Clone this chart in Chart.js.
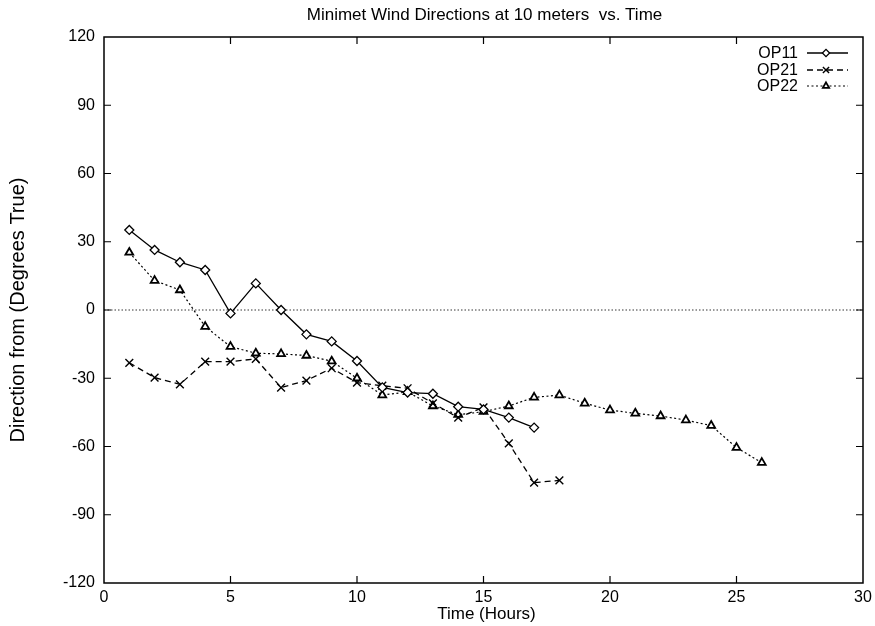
<!DOCTYPE html>
<html>
<head>
<meta charset="utf-8">
<script src="https://cdn.jsdelivr.net/npm/chart.js@4/dist/chart.umd.min.js"></script>
<style>
html,body{margin:0;padding:0;background:#fff;}
#wrap{width:875px;height:626px;position:relative;}
</style>
</head>
<body>
<div id="wrap"><canvas id="c" width="875" height="626"></canvas></div>
<script>
// ---- data ----
const hoursOP11 = [1,2,3,4,5,6,7,8,9,10,11,12,13,14,15,16,17];
const dirOP11   = [35.2,26.4,21,17.6,-1.5,11.7,0,-10.7,-13.8,-22.4,-34,-36.3,-36.8,-42.5,-43.7,-47.3,-51.7];
const hoursOP21 = [1,2,3,4,5,6,7,8,9,10,11,12,13,14,15,16,17,18];
const dirOP21   = [-23.2,-29.7,-32.7,-22.7,-22.7,-21.5,-34.1,-31,-25.6,-31.9,-33.3,-34.4,-41,-47.3,-42.8,-58.6,-75.9,-74.9];
const hoursOP22 = [1,2,3,4,5,6,7,8,9,10,11,12,13,14,15,16,17,18,19,20,21,22,23,24,25,26];
const dirOP22   = [25.3,12.9,8.8,-7.3,-16.1,-19,-19.3,-20,-22.5,-30,-37.4,-36,-42.2,-46,-44.7,-42.2,-38.4,-37.4,-41,-44,-45.4,-46.6,-48.4,-50.8,-60.5,-67.1];
const seriesNames = ['OP11','OP21','OP22'];
const xTickStep = 5, xMin = 0, xMax = 30;
const yTickStep = 30, yMin = -120, yMax = 120;
const chartTitle = 'Minimet Wind Directions at 10 meters  vs. Time';
const xTitle = 'Time (Hours)';
const yTitle = 'Direction from (Degrees True)';

const FONT = '"Liberation Sans", Arial, Helvetica, sans-serif';
const toPts = (xs, ys) => xs.map((x, i) => ({x, y: ys[i]}));

const datasets = [
  {label: seriesNames[0], data: toPts(hoursOP11, dirOP11), borderColor:'#000', borderWidth:1.3,
   pointStyle:'rectRot', pointRadius:4.5, pointBackgroundColor:'#fff', pointBorderColor:'#000', pointBorderWidth:1.3, borderDash:[]},
  {label: seriesNames[1], data: toPts(hoursOP21, dirOP21), borderColor:'#000', borderWidth:1.3,
   pointStyle:'crossRot', pointRadius:5.5, pointBackgroundColor:'#fff', pointBorderColor:'#000', pointBorderWidth:1.4, borderDash:[6,4]},
  {label: seriesNames[2], data: toPts(hoursOP22, dirOP22), borderColor:'#000', borderWidth:1.2,
   pointStyle:'triangle', pointRadius:4.5, pointBackgroundColor:'#fff', pointBorderColor:'#000', pointBorderWidth:1.8, borderDash:[2,2.5]}
];
datasets.forEach(d => { d.fill = false; d.tension = 0; d.backgroundColor = '#fff'; });

const framePlugin = {
  id: 'frame',
  beforeDatasetsDraw(chart) {
    const {ctx, chartArea: a, scales: {y}} = chart;
    ctx.save();
    const y0 = y.getPixelForValue(0);
    ctx.strokeStyle = '#000'; ctx.lineWidth = 0.8; ctx.setLineDash([1.5, 2]);
    ctx.beginPath(); ctx.moveTo(a.left, y0); ctx.lineTo(a.right, y0); ctx.stroke();
    ctx.restore();
  },
  afterDraw(chart) {
    const {ctx, chartArea: a, scales: {x, y}} = chart;
    ctx.save();
    ctx.strokeStyle = '#000'; ctx.lineWidth = 1.5; ctx.setLineDash([]);
    ctx.strokeRect(a.left, a.top, a.right - a.left, a.bottom - a.top);
    const tl = 7;
    ctx.lineWidth = 1.2;
    ctx.beginPath();
    x.ticks.forEach(t => {
      if (t.value === xMin || t.value === xMax) return;
      const px = x.getPixelForValue(t.value);
      ctx.moveTo(px, a.bottom); ctx.lineTo(px, a.bottom - tl);
      ctx.moveTo(px, a.top); ctx.lineTo(px, a.top + tl);
    });
    y.ticks.forEach(t => {
      if (t.value === yMin || t.value === yMax) return;
      const py = y.getPixelForValue(t.value);
      ctx.moveTo(a.left, py); ctx.lineTo(a.left + tl, py);
      ctx.moveTo(a.right, py); ctx.lineTo(a.right - tl, py);
    });
    ctx.stroke();

    // titles
    ctx.fillStyle = '#000';
    ctx.textAlign = 'center'; ctx.textBaseline = 'middle';
    ctx.font = '17px ' + FONT;
    ctx.fillText(chartTitle, (a.left + a.right) / 2 + 1, 15);
    ctx.font = '17px ' + FONT;
    ctx.fillText(xTitle, (a.left + a.right) / 2 + 3, 614);
    ctx.save();
    ctx.translate(18, (a.top + a.bottom) / 2);
    ctx.rotate(-Math.PI / 2);
    ctx.font = '20px ' + FONT;
    ctx.fillText(yTitle, 0, 0);
    ctx.restore();

    // legend
    const rows = [53, 70, 86];
    chart.data.datasets.forEach((d, i) => {
      const ry = rows[i];
      ctx.save();
      ctx.font = '16px ' + FONT;
      ctx.textAlign = 'right'; ctx.textBaseline = 'middle';
      ctx.fillStyle = '#000';
      ctx.fillText(d.label, 798, ry + 1);
      const x1 = 807, x2 = 848;
      ctx.strokeStyle = '#000'; ctx.lineWidth = d.borderWidth;
      ctx.setLineDash(d.borderDash);
      ctx.beginPath(); ctx.moveTo(x1, ry); ctx.lineTo(x2, ry); ctx.stroke();
      ctx.setLineDash([]);
      ctx.fillStyle = '#fff'; ctx.strokeStyle = '#000';
      ctx.lineWidth = d.pointBorderWidth;
      Chart.helpers.drawPoint(ctx, {pointStyle: d.pointStyle, radius: d.pointRadius * 0.8, rotation: 0, borderWidth: d.pointBorderWidth}, 826, ry);
      ctx.restore();
    });
    ctx.restore();
  }
};

new Chart(document.getElementById('c'), {
  type: 'line',
  data: {datasets},
  options: {
    responsive: false,
    animation: false,
    devicePixelRatio: 1,
    layout: {padding: {left: 0, right: 12, top: 37, bottom: 0}},
    plugins: {legend: {display: false}, title: {display: false}, tooltip: {enabled: false}},
    scales: {
      x: {
        type: 'linear', min: xMin, max: xMax,
        ticks: {stepSize: xTickStep, color: '#000', font: {family: FONT, size: 16}, padding: 5, maxRotation: 0},
        grid: {display: false, drawTicks: false},
        border: {display: false},
        afterFit(s) { s.height = 43; s.paddingRight = 0; s.paddingLeft = 0; }
      },
      y: {
        min: yMin, max: yMax,
        ticks: {stepSize: yTickStep, color: '#000', font: {family: FONT, size: 16}, padding: 9},
        grid: {display: false, drawTicks: false},
        border: {display: false},
        afterFit(s) { s.width = 104; s.paddingTop = 0; s.paddingBottom = 0; }
      }
    }
  },
  plugins: [framePlugin]
});
</script>
</body>
</html>
